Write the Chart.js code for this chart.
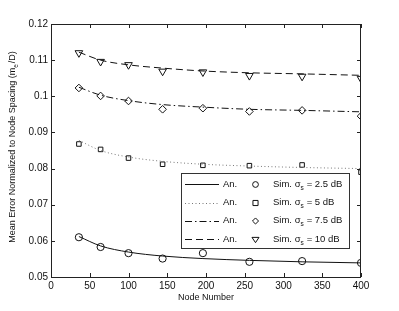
<!DOCTYPE html>
<html>
<head>
<meta charset="utf-8">
<script src="https://cdn.jsdelivr.net/npm/chart.js@4.4.1/dist/chart.umd.min.js"></script>
<style>
  html, body { margin: 0; padding: 0; background: #fff; }
</style>
</head>
<body>
<canvas id="myChart" width="399" height="311"></canvas>
<script>
// node counts (x positions of simulation points and analytical curve samples)
const nodes = [36, 64, 100, 144, 196, 256, 324, 400];

// analytical curves
const an25 = [0.0612, 0.0586, 0.0569, 0.0558, 0.0551, 0.0546, 0.0542, 0.0539];
const an5 = [0.0878, 0.0850, 0.0832, 0.0820, 0.0812, 0.0807, 0.0803, 0.0800];
const an75 = [0.1025, 0.1003, 0.0988, 0.0977, 0.0970, 0.0964, 0.0961, 0.0957];
const an10 = [0.1122, 0.1100, 0.1087, 0.1078, 0.1070, 0.1065, 0.1062, 0.1058];

// simulation points
const sim25 = [0.0610, 0.0583, 0.0566, 0.0551, 0.0566, 0.0542, 0.0544, 0.0539];
const sim5 = [0.0868, 0.0853, 0.0829, 0.0812, 0.0809, 0.0808, 0.0810, 0.0790];
const sim75 = [0.1023, 0.1001, 0.0987, 0.0964, 0.0967, 0.0958, 0.0961, 0.0945];
const sim10 = [0.1120, 0.1096, 0.1087, 0.1069, 0.1067, 0.1057, 0.1055, 0.1049];

const xTicks = [0, 50, 100, 150, 200, 250, 300, 350, 400];
const yTicks = [0.05, 0.06, 0.07, 0.08, 0.09, 0.1, 0.11, 0.12];

const sigmaLabels = ["2.5", "5", "7.5", "10"];

const FONT = "'Liberation Sans', Arial, Helvetica, sans-serif";

function pts(ys) {
  return nodes.map((x, i) => ({ x: x, y: ys[i] }));
}

function anSet(ys, dash, color) {
  return {
    data: pts(ys),
    borderColor: color,
    borderWidth: 1,
    borderDash: dash,
    pointRadius: 0,
    cubicInterpolationMode: "monotone",
    fill: false,
  };
}

function simSet(ys, style, radius, rot) {
  return {
    data: pts(ys),
    showLine: false,
    pointStyle: style,
    pointRadius: radius,
    pointRotation: rot,
    pointBorderColor: "#111",
    pointBackgroundColor: "rgba(0,0,0,0)",
    pointBorderWidth: 1,
  };
}

const lineDefs = [
  { dash: [], color: "#111" },
  { dash: [1, 2.5], color: "#777" },
  { dash: [7, 3, 1.5, 3], color: "#111" },
  { dash: [7, 4], color: "#111" },
];
const markDefs = [
  { style: "circle", r: 3.6, rot: 0 },
  { style: "rect", r: 3.2, rot: 0 },
  { style: "rectRot", r: 3.8, rot: 0 },
  { style: "triangle", r: 4.4, rot: 180 },
];

const data = {
  datasets: [
    anSet(an25, lineDefs[0].dash, lineDefs[0].color),
    anSet(an5, lineDefs[1].dash, lineDefs[1].color),
    anSet(an75, lineDefs[2].dash, lineDefs[2].color),
    anSet(an10, lineDefs[3].dash, lineDefs[3].color),
    simSet(sim25, markDefs[0].style, markDefs[0].r, markDefs[0].rot),
    simSet(sim5, markDefs[1].style, markDefs[1].r, markDefs[1].rot),
    simSet(sim75, markDefs[2].style, markDefs[2].r, markDefs[2].rot),
    simSet(sim10, markDefs[3].style, markDefs[3].r, markDefs[3].rot),
  ],
};

function drawMarker(ctx, style, x, y, r) {
  ctx.beginPath();
  if (style === "circle") {
    ctx.arc(x, y, r, 0, Math.PI * 2);
  } else if (style === "rect") {
    ctx.rect(x - r, y - r, 2 * r, 2 * r);
  } else if (style === "rectRot") {
    ctx.moveTo(x, y - r); ctx.lineTo(x + r, y); ctx.lineTo(x, y + r); ctx.lineTo(x - r, y); ctx.closePath();
  } else {
    ctx.moveTo(x - r, y - r * 0.6); ctx.lineTo(x + r, y - r * 0.6); ctx.lineTo(x, y + r * 0.9); ctx.closePath();
  }
  ctx.stroke();
}

const frame = {
  id: "frame",
  afterDraw(chart) {
    const ctx = chart.ctx, a = chart.chartArea;
    const xs = chart.scales.x, ys = chart.scales.y;
    ctx.save();
    ctx.strokeStyle = "#222";
    ctx.lineWidth = 1;
    ctx.setLineDash([]);
    ctx.strokeRect(a.left + 0.5, a.top + 0.5, a.right - a.left - 1, a.bottom - a.top);
    ctx.beginPath();
    xTicks.forEach((v) => {
      const p = Math.round(xs.getPixelForValue(v)) + 0.5;
      ctx.moveTo(p, a.bottom); ctx.lineTo(p, a.bottom - 4);
      ctx.moveTo(p, a.top); ctx.lineTo(p, a.top + 4);
    });
    yTicks.forEach((v) => {
      const p = Math.round(ys.getPixelForValue(v)) + 0.5;
      ctx.moveTo(a.left, p); ctx.lineTo(a.left + 4, p);
      ctx.moveTo(a.right, p); ctx.lineTo(a.right - 4, p);
    });
    ctx.stroke();

    // y axis title with subscript
    ctx.fillStyle = "#111";
    ctx.translate(12.5, 147.5);
    ctx.rotate(-Math.PI / 2);
    ctx.textBaseline = "middle";
    const main = "Mean Error Normalized to Node Spacing (m";
    const tail = "/D)";
    ctx.font = "9px " + FONT;
    const w1 = ctx.measureText(main).width;
    ctx.font = "6.5px " + FONT;
    const w2 = ctx.measureText("e").width;
    ctx.font = "9px " + FONT;
    const w3 = ctx.measureText(tail).width;
    let x0 = -(w1 + w2 + w3) / 2;
    ctx.textAlign = "left";
    ctx.fillText(main, x0, 0);
    ctx.font = "6.5px " + FONT;
    ctx.fillText("e", x0 + w1, 3.5);
    ctx.font = "9px " + FONT;
    ctx.fillText(tail, x0 + w1 + w2 + 1, 0);
    ctx.restore();

    // legend box
    ctx.save();
    const L = 181, T = 173, R = 349, B = 248;
    ctx.fillStyle = "#fff";
    ctx.fillRect(L, T, R - L, B - T);
    ctx.strokeStyle = "#333";
    ctx.lineWidth = 1;
    ctx.strokeRect(L + 0.5, T + 0.5, R - L, B - T);
    const rowY = [184, 202.5, 220.5, 239];
    ctx.textBaseline = "middle";
    ctx.fillStyle = "#111";
    rowY.forEach((y, i) => {
      ctx.strokeStyle = lineDefs[i].color;
      ctx.setLineDash(lineDefs[i].dash);
      ctx.beginPath();
      ctx.moveTo(185, Math.round(y) + 0.5);
      ctx.lineTo(219, Math.round(y) + 0.5);
      ctx.stroke();
      ctx.setLineDash([]);
      ctx.font = "9.5px " + FONT;
      ctx.fillText("An.", 223, y);
      ctx.strokeStyle = "#111";
      drawMarker(ctx, markDefs[i].style, 255.5, y + 0.5, markDefs[i].r * 0.8);
      const s1 = "Sim. \u03c3";
      ctx.fillText(s1, 273, y);
      const ws = ctx.measureText(s1).width;
      ctx.font = "6.5px " + FONT;
      ctx.fillText("s", 273 + ws, y + 4);
      ctx.font = "9.5px " + FONT;
      ctx.fillText(" = " + sigmaLabels[i] + " dB", 273 + ws + 3.5, y);
    });
    ctx.restore();
  },
};

const config = {
  type: "line",
  data: data,
  options: {
    responsive: false,
    animation: false,
    layout: { padding: { left: 0, right: 38, top: 24, bottom: 8 } },
    plugins: { legend: { display: false }, tooltip: { enabled: false } },
    scales: {
      x: {
        type: "linear",
        min: 0,
        max: 400,
        afterBuildTicks: (s) => { s.ticks = xTicks.map((v) => ({ value: v })); },
        afterFit: (s) => { s.height = 26; },
        grid: { display: false, drawTicks: false },
        border: { display: false },
        ticks: { color: "#111", padding: 3, font: { family: FONT, size: 10 }, maxRotation: 0 },
        title: { display: true, text: "Node Number", color: "#111", padding: { top: 0, bottom: 0 }, font: { family: FONT, size: 9 } },
      },
      y: {
        type: "linear",
        min: 0.05,
        max: 0.12,
        afterBuildTicks: (s) => { s.ticks = yTicks.map((v) => ({ value: v })); },
        afterFit: (s) => { s.width = 51; },
        grid: { display: false, drawTicks: false },
        border: { display: false },
        ticks: {
          color: "#111",
          padding: 3,
          font: { family: FONT, size: 10 },
          callback: (v) => String(Number(v.toFixed(2))),
        },
      },
    },
  },
  plugins: [frame],
};

const myChart = new Chart(document.getElementById("myChart"), config);
</script>
</body>
</html>
